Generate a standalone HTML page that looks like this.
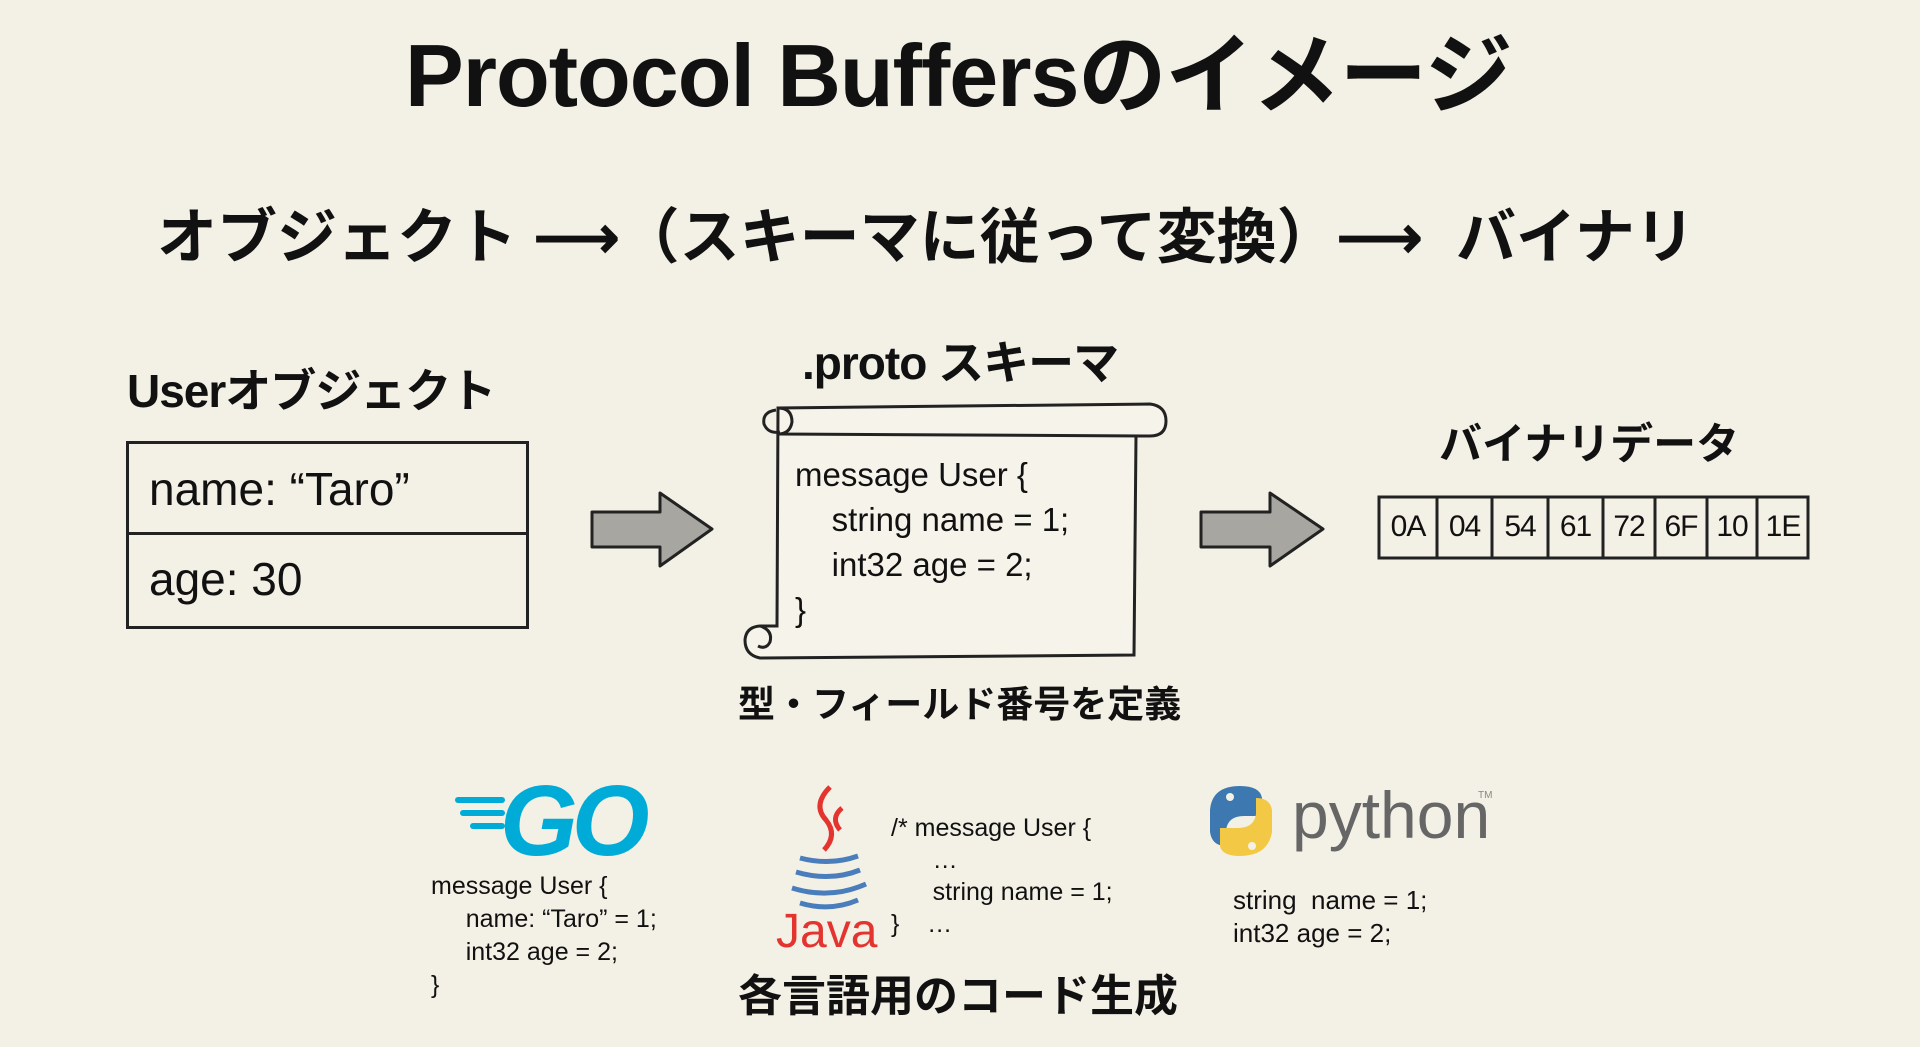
<!DOCTYPE html>
<html><head><meta charset="utf-8"><style>
body{margin:0;width:1920px;height:1047px;background:#f3f0e5;position:relative;overflow:hidden;font-family:"Liberation Sans","Noto Sans CJK JP",sans-serif;color:#111}
.t{position:absolute;white-space:nowrap;line-height:1}
.b{font-weight:bold}
.code{font-family:"Liberation Sans","Noto Sans CJK JP",sans-serif}
</style></head><body>
<div class="t b" style="left:405px;top:32px;font-size:88px;letter-spacing:-1px">Protocol Buffersのイメージ</div>
<div class="t b" style="left:157px;top:208px;font-size:60px">オブジェクト&nbsp;⟶（スキーマに従って変換）⟶&nbsp;&nbsp;バイナリ</div>

<div class="t b" style="left:127px;top:368px;font-size:46px;letter-spacing:-1px">Userオブジェクト</div>
<div style="position:absolute;left:126px;top:441px;width:397px;height:182px;border:3px solid #222"></div>
<div style="position:absolute;left:126px;top:532px;width:401px;height:3px;background:#222"></div>
<div class="t" style="left:149px;top:466px;font-size:46px">name: “Taro”</div>
<div class="t" style="left:149px;top:556px;font-size:46px">age: 30</div>

<svg style="position:absolute;left:0;top:0" width="1920" height="1047">
<g fill="#a8a6a0" stroke="#222" stroke-width="3" stroke-linejoin="round">
<polygon points="592,512 660,512 660,493 712,529 660,566 660,547 592,547"/>
<polygon points="1201,512 1270,512 1270,493 1323,529 1270,566 1270,547 1201,547"/>
</g>
<g fill="#f6f3ea" stroke="#222" stroke-width="3">
<path d="M778,408 L1150,404 Q1166,406 1166,421 Q1166,436 1150,436 L1136,436 L1134,655 L760,658 Q745,655 745,640 Q746,627 760,626 L777,626 Z"/>
<path d="M778,408 Q792,408 792,422 Q790,434 778,434 L1150,436" fill="none"/>
<path d="M776,410 Q762,412 764,424 Q768,434 780,432" fill="none"/>
<path d="M760,626 Q773,630 770,642 Q766,650 758,646" fill="none"/>
</g>
<g fill="none" stroke="#222" stroke-width="3">
<rect x="1379" y="497" width="429" height="61"/>
<line x1="1437" y1="497" x2="1437" y2="558"/><line x1="1492" y1="497" x2="1492" y2="558"/>
<line x1="1548" y1="497" x2="1548" y2="558"/><line x1="1603" y1="497" x2="1603" y2="558"/>
<line x1="1655" y1="497" x2="1655" y2="558"/><line x1="1707" y1="497" x2="1707" y2="558"/>
<line x1="1757" y1="497" x2="1757" y2="558"/>
</g>
<!-- Go -->
<g fill="#00acd7">
<rect x="455" y="797" width="50" height="6" rx="3"/><rect x="460" y="810" width="45" height="6" rx="3"/><rect x="470" y="823" width="35" height="6" rx="3"/>
</g>
<text x="500" y="855" font-family="Liberation Sans" font-weight="bold" font-style="italic" font-size="100" fill="#00acd7" letter-spacing="-6">GO</text>
<!-- Java -->
<g fill="none" stroke="#e3342f" stroke-width="5"><path d="M830,787 Q812,805 826,820 Q838,835 824,850"/><path d="M842,808 Q830,818 840,830"/></g>
<g fill="none" stroke="#4a7dbb" stroke-width="5"><path d="M800,858 Q830,866 858,856"/><path d="M796,872 Q830,882 860,870"/><path d="M792,888 Q830,900 866,884"/><path d="M800,903 Q830,912 858,900"/></g>
<text x="776" y="947" font-family="Liberation Sans" font-size="48" fill="#e3342f">Java</text>
<!-- Python -->
<path d="M1240,786 Q1212,786 1210,810 L1210,832 Q1212,846 1226,846 L1226,830 Q1228,816 1244,816 L1262,816 L1262,798 Q1260,786 1240,786 Z" fill="#3d78b0"/>
<path d="M1240,856 Q1268,856 1272,832 L1272,810 Q1270,798 1256,798 L1256,814 Q1254,828 1238,828 L1220,828 L1220,846 Q1222,856 1240,856 Z" fill="#f3c844"/>
<circle cx="1230" cy="797" r="4" fill="#f3f0e5"/><circle cx="1252" cy="846" r="4" fill="#f3f0e5"/>
<text x="1292" y="838" font-family="Liberation Sans" font-size="66" fill="#666">python</text>
<text x="1478" y="798" font-family="Liberation Sans" font-size="10" fill="#888">TM</text>
</svg>

<div class="t b" style="left:802px;top:340px;font-size:46px;letter-spacing:-1px">.proto スキーマ</div>
<div class="code t" style="left:795px;top:452px;font-size:33px;line-height:45px">message User {<br>&nbsp;&nbsp;&nbsp;&nbsp;string name = 1;<br>&nbsp;&nbsp;&nbsp;&nbsp;int32 age = 2;<br>}</div>
<div class="t b" style="left:738px;top:686px;font-size:37px">型・フィールド番号を定義</div>

<div class="t b" style="left:1439px;top:424px;font-size:43px">バイナリデータ</div>
<div class="t" style="left:1379px;top:512px;font-size:30px;width:432px;display:flex;letter-spacing:-1px">
<span style="width:58px;text-align:center">0A</span><span style="width:55px;text-align:center">04</span><span style="width:56px;text-align:center">54</span><span style="width:55px;text-align:center">61</span><span style="width:52px;text-align:center">72</span><span style="width:52px;text-align:center">6F</span><span style="width:50px;text-align:center">10</span><span style="width:52px;text-align:center">1E</span></div>

<div class="code t" style="left:431px;top:870px;font-size:25px;line-height:33px">message User {<br>&nbsp;&nbsp;&nbsp;&nbsp;&nbsp;name: “Taro” = 1;<br>&nbsp;&nbsp;&nbsp;&nbsp;&nbsp;int32 age = 2;<br>}</div>
<div class="code t" style="left:891px;top:812px;font-size:25px;line-height:32px">/* message User {<br>&nbsp;&nbsp;&nbsp;&nbsp;&nbsp;&nbsp;…<br>&nbsp;&nbsp;&nbsp;&nbsp;&nbsp;&nbsp;string name = 1;<br>}&nbsp;&nbsp;&nbsp;&nbsp;…</div>
<div class="code t" style="left:1233px;top:884px;font-size:26px;line-height:33px">string&nbsp; name = 1;<br>int32 age = 2;</div>
<div class="t b" style="left:738px;top:975px;font-size:44px">各言語用のコード生成</div>
</body></html>
